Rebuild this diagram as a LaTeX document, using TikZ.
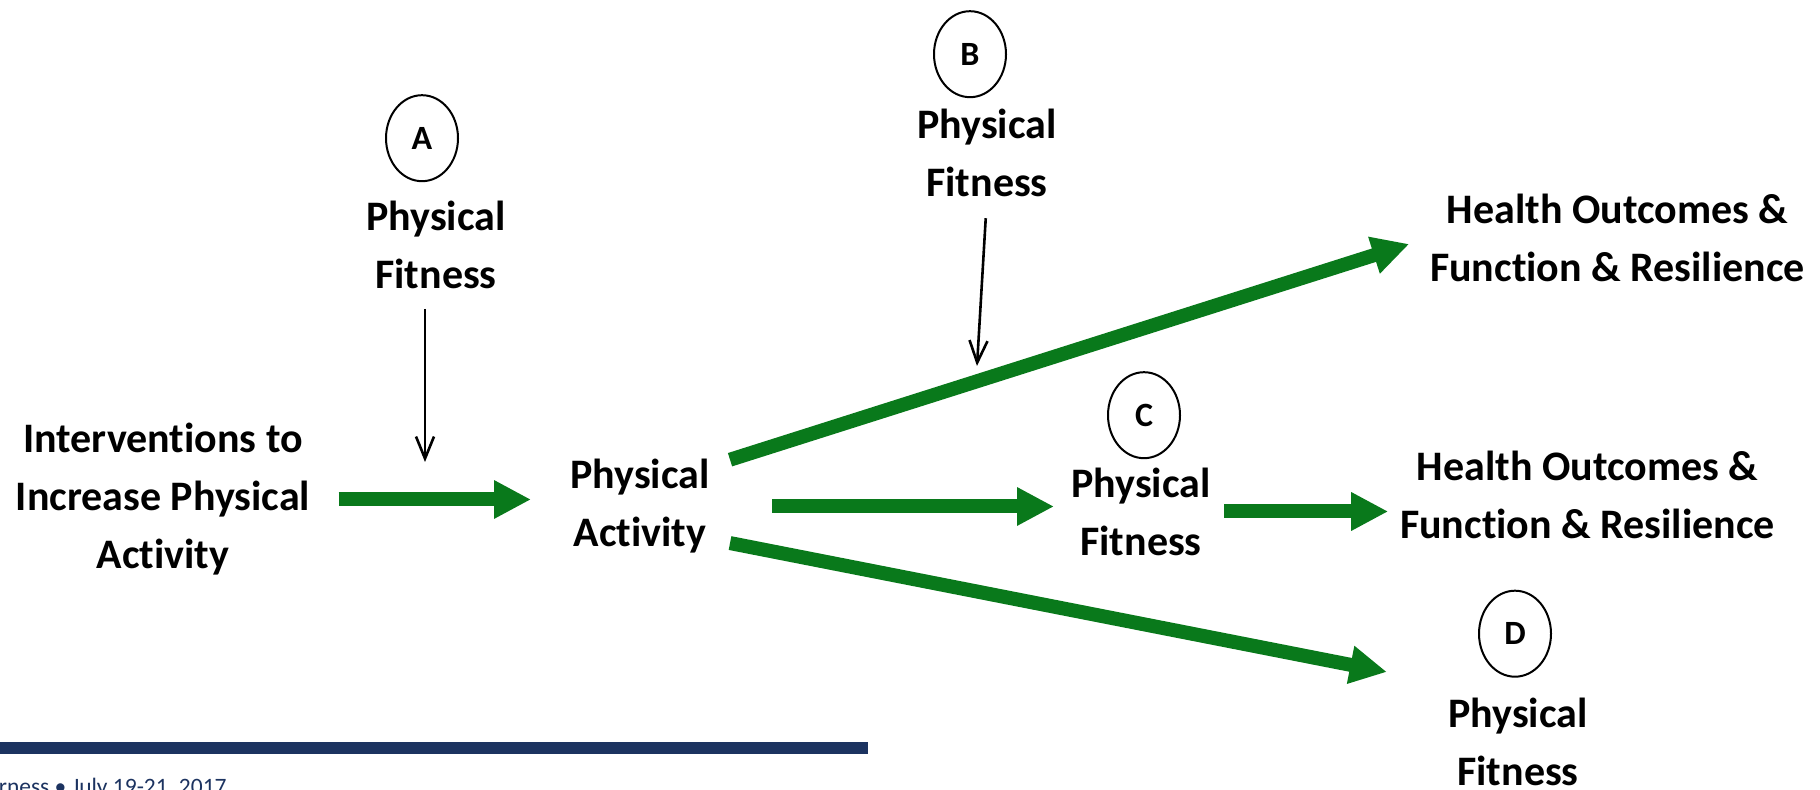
\documentclass[tikz,border=0pt]{standalone}
\usepackage{fontspec}
\setmainfont[Ligatures={NoCommon,NoRequired}]{Carlito}
\usepackage{xcolor}
\usepackage{tikz}
\usetikzlibrary{shapes.geometric,positioning,arrows.meta}
\tikzset{>=Latex}
\definecolor{arrowgreen}{RGB}{9,121,27}
\definecolor{barnavy}{RGB}{28,51,96}

\begin{document}
\begin{tikzpicture}[x=0.5pt,y=0.5pt,
textnode/.style={align=center, inner sep=0pt, font=\bfseries\fontsize{21pt}{29pt}\selectfont},
letternode/.style={ellipse, draw=black, line width=1pt, inner sep=0pt, minimum width=36pt, minimum height=43pt, font=\bfseries\fontsize{17pt}{19pt}\selectfont},
greenarrow/.style={draw=arrowgreen, line width=7pt, -{Triangle[length=18.5pt,width=18pt]}},
thinarrow/.style={draw=black, line width=1.3pt, -{Straight Barb[length=11pt,width=9pt]}},
]
\useasboundingbox (0,0) rectangle (1820,790);
\clip (0,0) rectangle (1820,790);

%Nodes
\node[textnode](Interventions) at (163,290.5){Interventions to\\Increase Physical\\Activity};
\node[textnode](Physical Activity) at (640,283.5){Physical\\Activity};
\node[textnode](Fitness A) at (436,545.5){Physical\\Fitness};
\node[textnode](Fitness B) at (987,637.5){Physical\\Fitness};
\node[textnode](Fitness C) at (1141,278.5){Physical\\Fitness};
\node[textnode](Fitness D) at (1518,48){Physical\\Fitness};
\node[textnode](Health Outcomes 1) at (1617.5,552.5){Health Outcomes \&\\Function \& Resilience};
\node[textnode](Health Outcomes 2) at (1587.5,295){Health Outcomes \&\\Function \& Resilience};
\node[letternode](Circle A)[above=9pt of Fitness A, xshift=-7pt]{A};
\node[letternode](Circle B)[above=5pt of Fitness B, xshift=-8.5pt]{B};
\node[letternode](Circle C)[above=4pt of Fitness C, xshift=1.5pt]{C};
\node[letternode](Circle D)[above=10pt of Fitness D, xshift=-1.5pt]{D};
\coordinate (tipA) at (425,328);
\coordinate (tipB) at (977,424);

%Lines
\draw[greenarrow, shorten <=14pt, shorten >=19.5pt] (Interventions.east) -- (Interventions.east -| Physical Activity.west);
\draw[greenarrow, shorten <=10.5pt, shorten >=10.75pt] (Physical Activity.30) -- (Health Outcomes 1.west);
\draw[greenarrow, shorten <=31pt, shorten >=8.5pt] (Physical Activity.east) -- (Physical Activity.east -| Fitness C.west);
\draw[greenarrow, shorten <=6.5pt, shorten >=5.75pt] (Fitness C.east) -- (Fitness C.east -| Health Outcomes 2.west);
\draw[greenarrow, shorten <=10.2pt, shorten >=66.8pt] (Physical Activity.-25) -- (Fitness D.north);
\draw[thinarrow, shorten <=10pt] (Fitness A.south -| tipA) -- (tipA);
\draw[thinarrow, shorten <=10.75pt] (Fitness B.south) -- (tipB);

%Footer
\fill[barnavy] (0,36) rectangle (868,48);
\node[anchor=base east, text=barnavy, inner sep=0pt, font=\fontsize{11.75pt}{14pt}\selectfont](Footer) at (227,-5){rness • July 19-21, 2017};
\end{tikzpicture}
\end{document}
